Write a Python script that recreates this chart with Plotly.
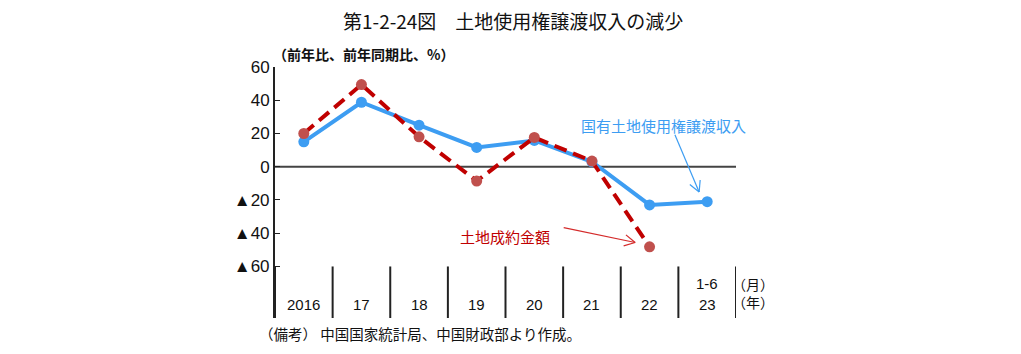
import math
import plotly.graph_objects as go

categories = ["2016", "17", "18", "19", "20", "21", "22", "23"]
month_labels = ["", "", "", "", "", "", "", "1-6"]
state_land = [15, 38.8, 25, 11.6, 15.8, 3, -23, -21]
land_deals = [20, 49.4, 18, -8.6, 17.6, 3.4, -48.2]
y_ticks = [60, 40, 20, 0, -20, -40, -60]
y_tick_labels = ["60", "40", "20", "0", "▲20", "▲40", "▲60"]

JP = "Noto Sans CJK JP"
NUM = "Liberation Sans Narrow, Arial Narrow, Liberation Sans, Arial"
BLUE = "#3d9df2"
RED_LINE = "#c00000"
RED_MARK = "#c0504d"
RED_ARROW = "#d42a2a"

W, H = 1021, 354
ML, MR, MT, MB = 275, 285, 67, 36
XR = [-0.5, 7.5]
YR = [-91, 60]
PX_X = (W - ML - MR) / (XR[1] - XR[0])
PX_Y = (H - MT - MB) / (YR[1] - YR[0])

x = list(range(len(categories)))

fig = go.Figure()
fig.add_trace(go.Scatter(
    x=x, y=state_land, mode="lines+markers",
    line=dict(color=BLUE, width=4),
    marker=dict(color=BLUE, size=11),
    showlegend=False, cliponaxis=False))
fig.add_trace(go.Scatter(
    x=x[:len(land_deals)], y=land_deals, mode="lines",
    line=dict(color=RED_LINE, width=4, dash="13px,7px"),
    showlegend=False, cliponaxis=False))
fig.add_trace(go.Scatter(
    x=x[:len(land_deals)], y=land_deals, mode="markers",
    marker=dict(color=RED_MARK, size=11),
    showlegend=False, cliponaxis=False))

shapes = []
for i in range(len(categories) + 1):
    shapes.append(dict(type="line", xref="x", yref="y",
                       x0=i - 0.5, x1=i - 0.5, y0=-60, y1=-91,
                       line=dict(color="#222222", width=2)))
shapes.append(dict(type="line", xref="x", yref="y", x0=-0.5, x1=7.5, y0=0, y1=0,
                   line=dict(color="#444444", width=2), layer="below"))


def open_arrow(tx, ty, hx, hy, color, arm=12, ang=28):
    out = [dict(type="line", xref="x", yref="y", x0=tx, y0=ty, x1=hx, y1=hy,
                line=dict(color=color, width=1.2))]
    dxp = (hx - tx) * PX_X
    dyp = -(hy - ty) * PX_Y
    base = math.atan2(dyp, dxp)
    for s in (1, -1):
        a = base + math.pi + s * math.radians(ang)
        ex = hx + arm * math.cos(a) / PX_X
        ey = hy - arm * math.sin(a) / PX_Y
        out.append(dict(type="line", xref="x", yref="y", x0=hx, y0=hy, x1=ex, y1=ey,
                        line=dict(color=color, width=1.2)))
    return out


shapes += open_arrow(6.44, 19.2, 6.86, -15.2, BLUE)
shapes += open_arrow(4.51, -36.6, 5.75, -45.6, RED_ARROW)

annotations = []
for i, c in enumerate(categories):
    annotations.append(dict(x=i, y=-83, xref="x", yref="y", text=c, showarrow=False,
                            font=dict(family=NUM, size=15, color="#111111")))
    if month_labels[i]:
        annotations.append(dict(x=i, y=-70, xref="x", yref="y", text=month_labels[i],
                                showarrow=False, font=dict(family=NUM, size=15, color="#111111")))

annotations += [
    dict(x=7.5, y=-76, xref="x", yref="y", text="（月）<br>（年）", showarrow=False,
         xanchor="left", xshift=-6, align="left",
         font=dict(family=JP, size=14, color="#111111")),
    dict(x=528 / W, y=1, xref="paper", yref="paper", text="第1-2-24図　土地使用権譲渡収入の減少",
         showarrow=False, yanchor="middle", yshift=47,
         font=dict(family=JP, size=19, color="#111111")),
    dict(x=-0.5, y=60, xref="x", yref="y", text="<b>（前年比、前年同期比、%）</b>", showarrow=False,
         xanchor="left", yanchor="bottom", xshift=-4, yshift=1,
         font=dict(family=JP, size=14, color="#111111")),
    dict(x=6.25, y=24.6, xref="x", yref="y", text="国有土地使用権譲渡収入", showarrow=False,
         font=dict(family=JP, size=15, color=BLUE)),
    dict(x=3.49, y=-42, xref="x", yref="y", text="土地成約金額", showarrow=False,
         font=dict(family=JP, size=15, color=RED_LINE)),
    dict(x=0, y=0, xref="paper", yref="paper", text="（備考） 中国国家統計局、中国財政部より作成。",
         showarrow=False, xanchor="left", yanchor="middle", xshift=-18, yshift=-15,
         font=dict(family=JP, size=14.5, color="#111111")),
]

fig.update_layout(
    width=W, height=H,
    margin=dict(l=ML, r=MR, t=MT, b=MB),
    paper_bgcolor="white", plot_bgcolor="white",
    shapes=shapes, annotations=annotations,
    xaxis=dict(range=XR, showgrid=False, zeroline=False, showticklabels=False,
               showline=False, ticks=""),
    yaxis=dict(range=YR, tickvals=y_ticks, ticktext=y_tick_labels,
               showgrid=False, zeroline=False, showline=True, linecolor="#222222",
               linewidth=2, ticks="inside", ticklen=5, tickcolor="#222222",
               tickfont=dict(family=NUM, size=17, color="#111111")),
)
fig.write_html("out.html")
